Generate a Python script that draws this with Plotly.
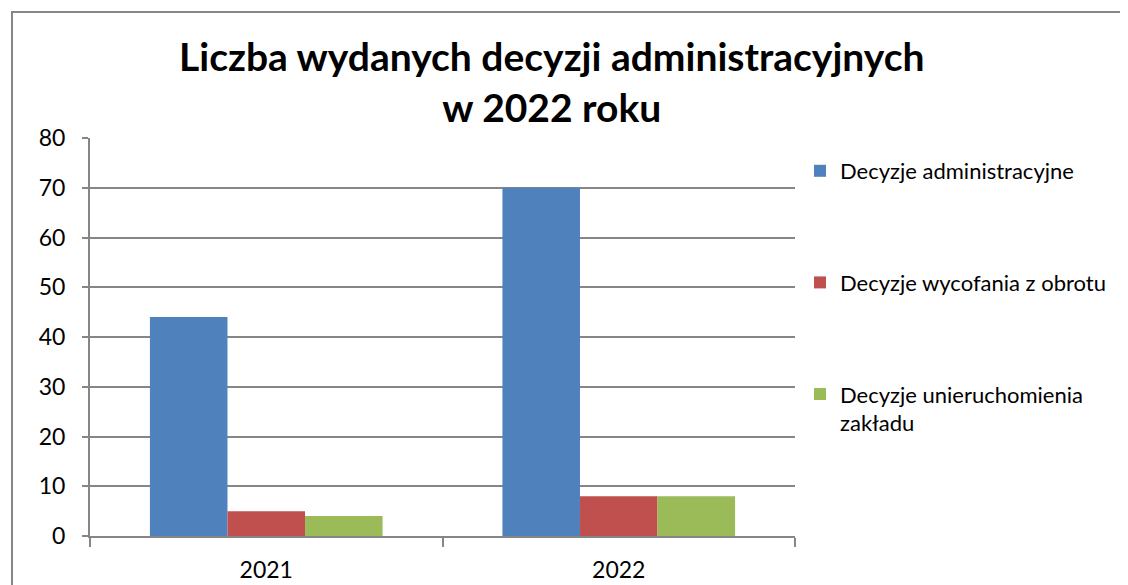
import plotly.graph_objects as go

categories = ["2021", "2022"]
series_names = ["Decyzje administracyjne", "Decyzje wycofania z obrotu", "Decyzje unieruchomienia<br>zakładu"]
admin_vals = [44, 70]
withdraw_vals = [5, 8]
shutdown_vals = [4, 8]
colors = ["#4F81BD", "#C0504D", "#9BBB59"]
y_ticks = [0, 10, 20, 30, 40, 50, 60, 70, 80]

fig = go.Figure()
for i, (name, vals) in enumerate(zip(series_names, [admin_vals, withdraw_vals, shutdown_vals])):
    fig.add_trace(go.Bar(
        x=categories, y=vals, name=name, legendgroup=str(i),
        marker=dict(color=colors[i], line=dict(width=0)),
    ))

OFF = 8  # page body margin
W, H = 1128, 585
L, R, T, B = 90 - OFF, 795 - OFF, 138 - OFF, 536 - OFF
fig.update_layout(
    width=W, height=H,
    margin=dict(l=L, r=W - R, t=T, b=H - B),
    paper_bgcolor="white", plot_bgcolor="white",
    font=dict(family="Lato, Noto Sans, sans-serif", color="black"),
    barmode="group", bargap=0.34, bargroupgap=0,
    showlegend=True,
    legend=dict(x=(800 - OFF - L) / (R - L), xanchor="left", y=(B - (150 - OFF)) / (B - T), yanchor="top",
                font=dict(size=22), tracegroupgap=80, traceorder="grouped", valign="top",
                itemwidth=30, bgcolor="rgba(0,0,0,0)"),
    xaxis=dict(showline=True, linecolor="#868686", linewidth=2, ticks="outside",
               tickson="boundaries", ticklen=9, tickcolor="#868686", tickwidth=2,
               tickfont=dict(size=23), showgrid=False, ticklabelstandoff=12, automargin=False),
    yaxis=dict(range=[0, 80], tickvals=y_ticks, showline=True, linecolor="#868686",
               linewidth=2, ticks="outside", ticklen=6, tickcolor="#868686", tickwidth=2,
               showgrid=True, gridcolor="#868686", gridwidth=2, zeroline=False,
               tickfont=dict(size=23), ticklabelstandoff=12, automargin=False),
)

# title
fig.add_annotation(text="<b>Liczba wydanych decyzji administracyjnych<br>w 2022 roku</b>",
                   xref="paper", yref="paper",
                   x=(552 - OFF - L) / (R - L), y=(B - (81 - OFF)) / (B - T),
                   xanchor="center", yanchor="middle", showarrow=False,
                   font=dict(size=39, family="Lato, sans-serif", color="black"))

# outer chart border
fig.add_shape(type="rect", xref="paper", yref="paper",
              x0=(12 - OFF - L) / (R - L), x1=(1140 - L) / (R - L),
              y0=(B - 600) / (B - T), y1=(B - (12 - OFF)) / (B - T),
              line=dict(color="#868686", width=2), fillcolor="rgba(0,0,0,0)", layer="below")

fig.write_html("out.html")
